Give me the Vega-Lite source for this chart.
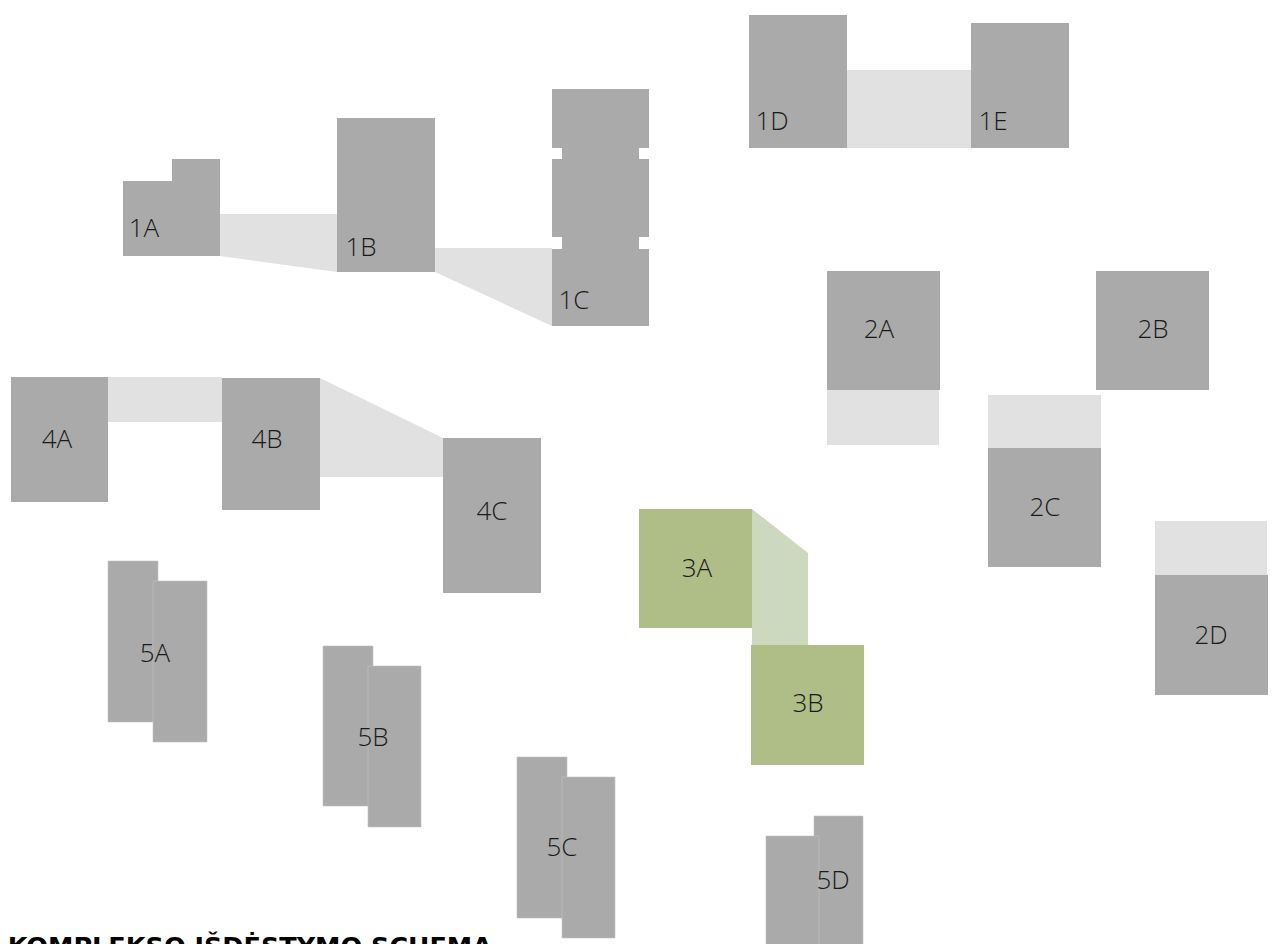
{
  "$schema": "https://vega.github.io/schema/vega-lite/v6.json",
  "width": 1274,
  "height": 944,
  "autosize": {"type": "none"},
  "padding": 0,
  "background": "#ffffff",
  "config": {"view": {"stroke": null}},
  "datasets": {
    "rects": [
      {"id": "1D-1E", "kind": "light", "x": 847, "x2": 971, "y": 70, "y2": 148},
      {"id": "4A-4B", "kind": "light", "x": 108, "x2": 222, "y": 377, "y2": 422},
      {"id": "2A+", "kind": "light", "x": 827, "x2": 939, "y": 390, "y2": 445},
      {"id": "2C+", "kind": "light", "x": 988, "x2": 1101, "y": 395, "y2": 448},
      {"id": "2D+", "kind": "light", "x": 1155, "x2": 1267, "y": 521, "y2": 575},
      {"id": "1A", "kind": "building", "x": 123, "x2": 220, "y": 181, "y2": 256},
      {"id": "1A", "kind": "building", "x": 172, "x2": 220, "y": 159, "y2": 182},
      {"id": "1B", "kind": "building", "x": 337, "x2": 435, "y": 118, "y2": 272},
      {"id": "1C", "kind": "building", "x": 552, "x2": 649, "y": 89, "y2": 148},
      {"id": "1C", "kind": "building", "x": 562, "x2": 639, "y": 147, "y2": 160},
      {"id": "1C", "kind": "building", "x": 552, "x2": 649, "y": 159, "y2": 237},
      {"id": "1C", "kind": "building", "x": 562, "x2": 639, "y": 236, "y2": 250},
      {"id": "1C", "kind": "building", "x": 552, "x2": 649, "y": 249, "y2": 326},
      {"id": "1D", "kind": "building", "x": 749, "x2": 847, "y": 15, "y2": 148},
      {"id": "1E", "kind": "building", "x": 971, "x2": 1069, "y": 23, "y2": 148},
      {"id": "4A", "kind": "building", "x": 11, "x2": 108, "y": 377, "y2": 502},
      {"id": "4B", "kind": "building", "x": 222, "x2": 320, "y": 378, "y2": 510},
      {"id": "4C", "kind": "building", "x": 443, "x2": 541, "y": 438, "y2": 593},
      {"id": "2A", "kind": "building", "x": 827, "x2": 940, "y": 271, "y2": 390},
      {"id": "2B", "kind": "building", "x": 1096, "x2": 1209, "y": 271, "y2": 390},
      {"id": "2C", "kind": "building", "x": 988, "x2": 1101, "y": 448, "y2": 567},
      {"id": "2D", "kind": "building", "x": 1155, "x2": 1268, "y": 575, "y2": 695},
      {"id": "3A", "kind": "green", "x": 639, "x2": 752, "y": 509, "y2": 628},
      {"id": "3B", "kind": "green", "x": 751, "x2": 864, "y": 645, "y2": 765}
    ],
    "segments": [
      {"id": "5A", "x": 108, "x2": 158, "y": 561, "y2": 722},
      {"id": "5A", "x": 153, "x2": 207, "y": 581, "y2": 742},
      {"id": "5B", "x": 323, "x2": 373, "y": 646, "y2": 806},
      {"id": "5B", "x": 368, "x2": 421, "y": 666, "y2": 827},
      {"id": "5C", "x": 517, "x2": 567, "y": 757, "y2": 918},
      {"id": "5C", "x": 562, "x2": 615, "y": 777, "y2": 938},
      {"id": "5D", "x": 814, "x2": 863, "y": 816, "y2": 952},
      {"id": "5D", "x": 766, "x2": 819, "y": 836, "y2": 952}
    ],
    "areas": [
      {"id": "1A-1B", "kind": "light", "x": 220, "y": 214, "y2": 256},
      {"id": "1A-1B", "kind": "light", "x": 337, "y": 214, "y2": 272},
      {"id": "1B-1C", "kind": "light", "x": 435, "y": 248, "y2": 272},
      {"id": "1B-1C", "kind": "light", "x": 552, "y": 248, "y2": 326},
      {"id": "4B-4C", "kind": "light", "x": 320, "y": 378, "y2": 477},
      {"id": "4B-4C", "kind": "light", "x": 443, "y": 438, "y2": 477},
      {"id": "3A-3B", "kind": "lightgreen", "x": 752, "y": 509, "y2": 645},
      {"id": "3A-3B", "kind": "lightgreen", "x": 808, "y": 553, "y2": 645}
    ],
    "labels": [
      {"label": "1A", "x": 144, "y": 229},
      {"label": "1B", "x": 361, "y": 248},
      {"label": "1C", "x": 574, "y": 301},
      {"label": "1D", "x": 772, "y": 122},
      {"label": "1E", "x": 993, "y": 122},
      {"label": "2A", "x": 879, "y": 330},
      {"label": "2B", "x": 1153, "y": 330},
      {"label": "2C", "x": 1045, "y": 508},
      {"label": "2D", "x": 1211, "y": 636},
      {"label": "3A", "x": 697, "y": 569},
      {"label": "3B", "x": 808, "y": 704},
      {"label": "4A", "x": 57, "y": 440},
      {"label": "4B", "x": 267, "y": 440},
      {"label": "4C", "x": 492, "y": 512},
      {"label": "5A", "x": 155, "y": 654},
      {"label": "5B", "x": 373, "y": 738},
      {"label": "5C", "x": 562, "y": 848},
      {"label": "5D", "x": 833, "y": 881}
    ],
    "title": [
      {"text": "KOMPLEKSO IŠDĖSTYMO SCHEMA", "x": 492, "y": 955}
    ]
  },
  "layer": [
    {
      "data": {"name": "areas"},
      "mark": {"type": "area", "interpolate": "linear"},
      "encoding": {
        "x": {"field": "x", "type": "quantitative", "scale": {"domain": [0, 1274], "nice": false, "zero": false}, "axis": null},
        "y": {"field": "y", "type": "quantitative", "scale": {"domain": [0, 944], "nice": false, "zero": false, "reverse": true}, "axis": null},
        "y2": {"field": "y2"},
        "detail": {"field": "id"},
        "color": {"field": "kind", "type": "nominal", "scale": {"domain": ["building", "light", "green", "lightgreen"], "range": ["#aaaaaa", "#e1e1e1", "#afbd87", "#cdd9bf"]}, "legend": null}
      }
    },
    {
      "data": {"name": "rects"},
      "mark": {"type": "rect"},
      "encoding": {
        "x": {"field": "x", "type": "quantitative"},
        "x2": {"field": "x2"},
        "y": {"field": "y", "type": "quantitative"},
        "y2": {"field": "y2"},
        "color": {"field": "kind", "type": "nominal", "legend": null}
      }
    },
    {
      "data": {"name": "segments"},
      "mark": {"type": "rect", "color": "#aaaaaa", "stroke": "#c2c2c2", "strokeWidth": 0.6},
      "encoding": {
        "x": {"field": "x", "type": "quantitative"},
        "x2": {"field": "x2"},
        "y": {"field": "y", "type": "quantitative"},
        "y2": {"field": "y2"}
      }
    },
    {
      "data": {"name": "labels"},
      "mark": {"type": "text", "font": "Open Sans", "fontSize": 26, "fontWeight": 300, "color": "#1a1a1a", "align": "center", "baseline": "middle"},
      "encoding": {
        "x": {"field": "x", "type": "quantitative"},
        "y": {"field": "y", "type": "quantitative"},
        "text": {"field": "label"}
      }
    },
    {
      "data": {"name": "title"},
      "mark": {"type": "text", "font": "DejaVu Sans", "fontSize": 25.5, "fontWeight": "bold", "color": "#000000", "align": "right", "baseline": "alphabetic"},
      "encoding": {
        "x": {"field": "x", "type": "quantitative"},
        "y": {"field": "y", "type": "quantitative"},
        "text": {"field": "text"}
      }
    }
  ]
}
